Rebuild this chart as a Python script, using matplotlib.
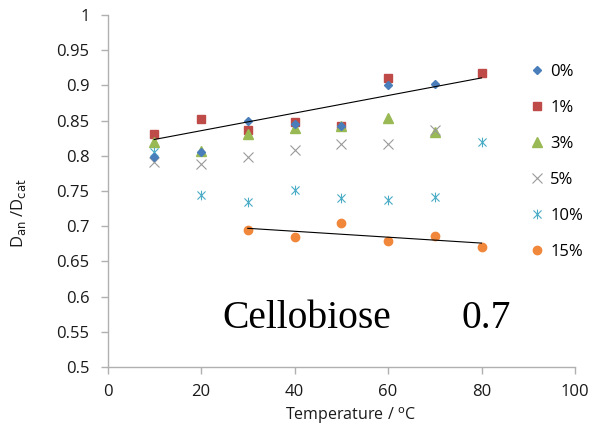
import numpy as np
import matplotlib
matplotlib.use("Agg")
import matplotlib.pyplot as plt
from matplotlib.path import Path

temps = [10, 20, 30, 40, 50, 60, 70, 80]
s0_x = [10, 20, 30, 40, 50, 60, 70]
s0_y = [0.798, 0.806, 0.850, 0.845, 0.842, 0.900, 0.902]
s1_x = [10, 20, 30, 40, 50, 60, 80]
s1_y = [0.831, 0.852, 0.836, 0.848, 0.843, 0.910, 0.917]
s3_x = [10, 20, 30, 40, 50, 60, 70]
s3_y = [0.820, 0.807, 0.831, 0.839, 0.842, 0.854, 0.834]
s5_x = [10, 20, 30, 40, 50, 60, 70]
s5_y = [0.791, 0.789, 0.799, 0.808, 0.817, 0.817, 0.836]
s10_x = [10, 20, 30, 40, 50, 60, 70, 80]
s10_y = [0.806, 0.745, 0.735, 0.752, 0.740, 0.737, 0.741, 0.819]
s15_x = [30, 40, 50, 60, 70, 80]
s15_y = [0.695, 0.685, 0.704, 0.679, 0.686, 0.670]
labels = ["0%", "1%", "3%", "5%", "10%", "15%"]

W, H = 609, 432
fig = plt.figure(figsize=(W/100, H/100), dpi=100)
ax = fig.add_axes([107.5/W, 1-367/H, (575-107.5)/W, (367-15)/H])

star = Path([(-1, -1), (1, 1), (-1, 1), (1, -1), (0, -1.2), (0, 1.2)],
            [Path.MOVETO, Path.LINETO, Path.MOVETO, Path.LINETO, Path.MOVETO, Path.LINETO])

c0, c1, c3, c5, c10, c15 = "#4A7EBB", "#BE4B48", "#98B954", "#9a9a9a", "#4BACC6", "#F0873A"
h = []
h.append(ax.plot(s0_x, s0_y, linestyle="none", marker="D", ms=4.3, color=c0, zorder=5)[0])
h.append(ax.plot(s1_x, s1_y, linestyle="none", marker="s", ms=6.3, color=c1, zorder=3)[0])
h.append(ax.plot(s3_x, s3_y, linestyle="none", marker="^", ms=6.5, color=c3, zorder=4)[0])
h.append(ax.plot(s5_x, s5_y, linestyle="none", marker="x", ms=6.5, mew=0.8, color=c5, zorder=4)[0])
h.append(ax.plot(s10_x, s10_y, linestyle="none", marker=star, ms=7, mew=0.8, color=c10, zorder=4)[0])
h.append(ax.plot(s15_x, s15_y, linestyle="none", marker="o", ms=6, color=c15, zorder=4)[0])

# linear trendlines
p1 = np.polyfit(s1_x, s1_y, 1)
xx1 = np.array([min(s1_x), max(s1_x)])
ax.plot(xx1, np.polyval(p1, xx1), color="black", lw=0.8, zorder=6)
p15 = np.polyfit(s15_x, s15_y, 1)
xx15 = np.array([min(s15_x), max(s15_x)])
ax.plot(xx15, np.polyval(p15, xx15), color="black", lw=0.8, zorder=6)

ax.set_xlim(0, 100)
ax.set_ylim(0.5, 1.0)
ax.set_xticks(np.arange(0, 101, 20))
ax.set_yticks(np.arange(0.5, 1.001, 0.05))
ax.set_yticklabels(["0.5", "0.55", "0.6", "0.65", "0.7", "0.75", "0.8", "0.85", "0.9", "0.95", "1"])
for s in ["top", "right"]:
    ax.spines[s].set_visible(False)
for s in ["left", "bottom"]:
    ax.spines[s].set_color("#b0b0b0")
    ax.spines[s].set_linewidth(1.0)
ax.tick_params(axis="both", colors="#b0b0b0", labelcolor="#1a1a1a", length=5, width=1)
ax.tick_params(axis="x", pad=7)
ax.tick_params(axis="y", pad=8)
for t in ax.get_xticklabels() + ax.get_yticklabels():
    t.set_family("Open Sans")
    t.set_fontsize(12)

ax.set_xlabel("Temperature / $^{\\mathrm{o}}$C", fontsize=11.5, family="Open Sans", color="#1a1a1a")
ax.xaxis.set_label_coords((351-107.5)/(575-107.5), -(405-367)/352)
ax.set_ylabel("D$_{\\mathrm{an}}$ /D$_{\\mathrm{cat}}$", fontsize=12, family="Open Sans", color="#1a1a1a")
ax.yaxis.set_label_coords(-(107.5-28)/467.5, (367-213)/352)

fig.text(222/W, 1-318/H, "Cellobiose", fontsize=28.5, family="Liberation Serif",
         va="center", ha="left")
fig.text(511/W, 1-318/H, "0.7", fontsize=28.5, family="Liberation Serif",
         va="center", ha="right")

leg = fig.legend(h, labels, loc="upper left", bbox_to_anchor=(522/W, 1-56/H),
                 frameon=False, prop={"family": "Open Sans", "size": 12},
                 labelspacing=1.2, handlelength=0.8, handletextpad=0.4, borderpad=0)

fig.savefig("out.png", dpi=100)
